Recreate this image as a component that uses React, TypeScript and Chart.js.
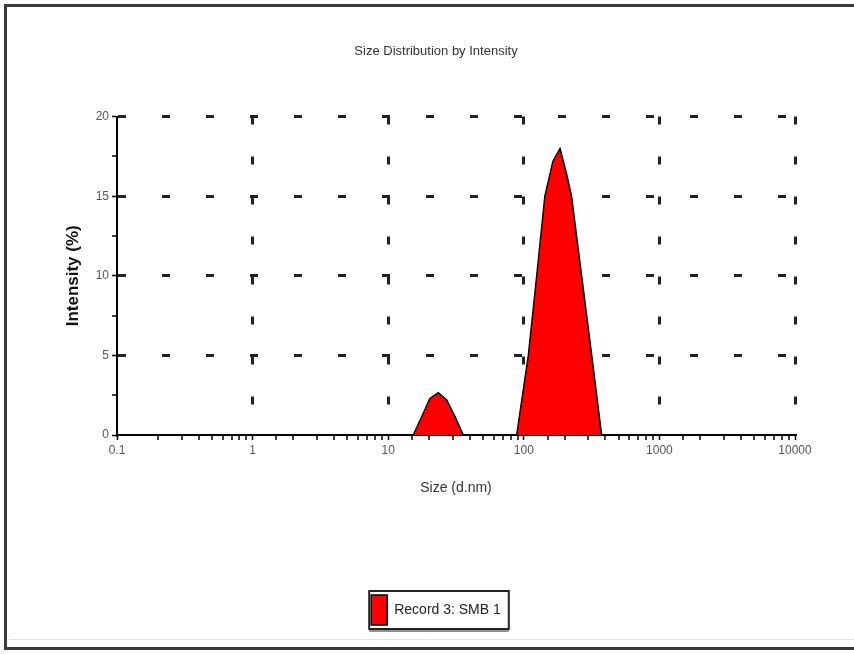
import React, { useEffect, useRef } from 'react';
import { Chart, registerables } from 'chart.js';

Chart.register(...registerables);

// ---- data ----
const sizesNm = [0.1, 15.3, 18.1, 20.3, 23.4, 27.0, 31.1, 35.8, 88.6, 108, 124.5, 143, 164, 185, 208, 225, 267, 317, 375, 10000];
const intensityPct = [0, 0, 1.35, 2.3, 2.65, 2.2, 1.15, 0, 0, 5, 10, 15, 17.2, 18, 16.3, 15, 10, 5, 0, 0];
const xDecadeTicks = [0.1, 1, 10, 100, 1000, 10000];
const xDecadeLabels = ['0.1', '1', '10', '100', '1000', '10000'];
const yLabelTicks = [0, 5, 10, 15, 20];

const chartTitle = 'Size Distribution by Intensity';
const xTitle = 'Size (d.nm)';
const yTitle = 'Intensity (%)';
const seriesName = 'Record 3: SMB 1';

const FONT = "'Liberation Sans', Arial, sans-serif";

const isDecade = (v: number) => {
  const l = Math.log10(v);
  return Math.abs(l - Math.round(l)) < 1e-6;
};

const framePlugin = {
  id: 'frameAndLegendBox',
  beforeDraw(chart: any) {
    const ctx = chart.ctx;
    ctx.save();
    ctx.fillStyle = '#ffffff';
    ctx.fillRect(0, 0, chart.width, chart.height);
    ctx.restore();
  },
  afterDraw(chart: any) {
    const ctx = chart.ctx;
    ctx.save();
    // outer frame
    ctx.strokeStyle = '#3a3a3a';
    ctx.lineWidth = 3;
    ctx.strokeRect(5.5, 5.5, chart.width + 20, chart.height - 11);
    ctx.strokeStyle = '#e2e2e2';
    ctx.lineWidth = 1;
    ctx.beginPath();
    ctx.moveTo(9, chart.height - 14.5);
    ctx.lineTo(chart.width, chart.height - 14.5);
    ctx.stroke();
    // legend box
    const lg = chart.legend;
    if (lg && lg.legendHitBoxes && lg.legendHitBoxes.length) {
      const hb = lg.legendHitBoxes[0];
      ctx.strokeStyle = '#222';
      ctx.lineWidth = 2;
      ctx.strokeRect(hb.left - 2, hb.top - 4, hb.width + 10, hb.height + 8);
      ctx.lineWidth = 1;
      ctx.beginPath();
      ctx.moveTo(hb.left - 2, hb.top + hb.height + 6);
      ctx.lineTo(hb.left + hb.width + 8, hb.top + hb.height + 6);
      ctx.stroke();
    }
    ctx.restore();
  },
};

export default function App() {
  const ref = useRef<HTMLCanvasElement | null>(null);

  useEffect(() => {
    if (!ref.current) return;
    const points = sizesNm.map((s, i) => ({ x: s, y: intensityPct[i] }));
    const chart = new Chart(ref.current, {
      type: 'line',
      data: {
        datasets: [
          {
            label: seriesName,
            data: points,
            borderColor: '#000000',
            borderWidth: 1.5,
            backgroundColor: '#ff0000',
            fill: 'origin',
            pointRadius: 0,
            tension: 0,
          },
        ],
      },
      options: {
        responsive: false,
        animation: false,
        layout: { padding: { left: 18, right: 0, top: 0, bottom: 19 } },
        plugins: {
          title: {
            display: true,
            text: chartTitle,
            color: '#333',
            font: { family: FONT, size: 13, weight: 'normal' },
            padding: { top: 44, bottom: 57 },
          },
          legend: {
            display: true,
            position: 'bottom',
            labels: {
              boxWidth: 16,
              boxHeight: 30,
              color: '#222',
              font: { family: FONT, size: 14 },
              padding: 10,
            },
          },
          tooltip: { enabled: false },
        },
        scales: {
          x: {
            type: 'logarithmic',
            min: 0.1,
            max: 10000,
            afterFit: (s: any) => {
              s.height = 150;
            },
            border: { display: true, color: '#000', width: 2, dash: [8, 32] },
            grid: {
              drawOnChartArea: true,
              color: (c: any) => (c.tick && isDecade(c.tick.value) && c.tick.value > 0.11 ? '#222' : 'rgba(0,0,0,0)'),
              lineWidth: (c: any) => (c.tick && isDecade(c.tick.value) ? 3 : 0),
              tickColor: '#000',
              tickWidth: 1.5,
              tickLength: 5,
            },
            ticks: {
              autoSkip: false,
              maxRotation: 0,
              color: '#555',
              font: { family: FONT, size: 12 },
              padding: 3,
              callback: (v: any) => {
                const idx = xDecadeTicks.findIndex((t) => Math.abs(t - Number(v)) / t < 1e-6);
                return idx >= 0 ? xDecadeLabels[idx] : '';
              },
            },
            title: {
              display: true,
              text: xTitle,
              color: '#333',
              font: { family: FONT, size: 14 },
              padding: { top: 0, bottom: 88 },
            },
          },
          y: {
            type: 'linear',
            min: 0,
            max: 20,
            afterFit: (s: any) => {
              s.width = 99;
            },
            border: { display: true, color: '#000', width: 2, dash: [8, 36] },
            grid: {
              color: (c: any) => (c.tick && c.tick.value > 0 && c.tick.value % 5 === 0 ? '#222' : 'rgba(0,0,0,0)'),
              lineWidth: (c: any) => (c.tick && c.tick.value % 5 === 0 ? 3 : 0),
              tickColor: '#000',
              tickWidth: 1.5,
              tickLength: 5,
            },
            ticks: {
              stepSize: 2.5,
              autoSkip: false,
              color: '#555',
              font: { family: FONT, size: 12 },
              padding: 3,
              callback: (v: any) => (yLabelTicks.includes(Number(v)) ? String(v) : ''),
            },
            title: {
              display: true,
              text: yTitle,
              color: '#111',
              font: { family: FONT, size: 17, weight: 'bold' },
              padding: { top: 45, bottom: 0 },
            },
          },
          y2: {
            type: 'linear',
            position: 'right',
            display: true,
            afterFit: (s: any) => {
              s.width = 59;
            },
            grid: { display: false, drawTicks: false },
            border: { display: false },
            ticks: { display: false },
          },
        },
      },
      plugins: [framePlugin],
    } as any);
    return () => chart.destroy();
  }, []);

  return (
    <div style={{ position: 'absolute', left: 0, top: 0, width: 854, height: 654 }}>
      <canvas ref={ref} width={854} height={654} style={{ width: 854, height: 654, display: 'block' }} />
    </div>
  );
}
